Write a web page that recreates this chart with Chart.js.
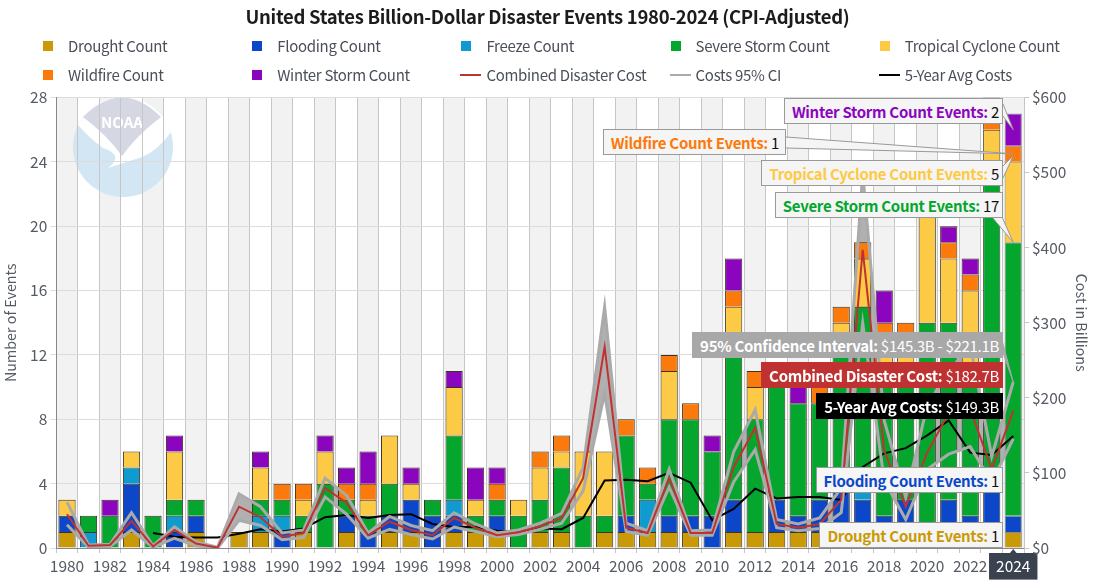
<!DOCTYPE html>
<html>
<head>
<meta charset="utf-8">
<script src="https://cdn.jsdelivr.net/npm/chart.js@4"></script>
<style>
  body { margin: 0; background: #fff; font-family: "Noto Sans CJK SC", "Noto Sans", sans-serif; }
  #wrap { position: relative; width: 1095px; height: 580px; overflow: hidden; }
  #title { position: absolute; left: 0; width: 1095px; top: 3px; text-align: center; font-size: 18.5px; letter-spacing: -0.3px; font-weight: 700; color: #1c1c1c; }
  .legend-item { position: absolute; font-size: 15px; letter-spacing: -0.3px; color: #4a4f58; line-height: 20px; white-space: nowrap; }
  .legend-mark { position: absolute; }
  .tip { position: absolute; box-sizing: border-box; height: 26px; line-height: 25px; padding: 0 3px 0 7px; font-size: 15px; letter-spacing: -0.3px; white-space: nowrap; background: #f5f5f5; border: 1px solid #999; color: #111; }
  .tip b { font-weight: 700; }
  .tip.dark { color: #fff; }
</style>
</head>
<body>
<div id="wrap">
  <canvas id="chart" width="1095" height="580"></canvas>
  <div id="title">United States Billion-Dollar Disaster Events 1980-2024 (CPI-Adjusted)</div>
</div>
<script>
// Năm
const years = [];
for (let y = 1980; y <= 2024; y++) years.push(String(y));

// Số sự kiện theo loại
const droughtCount = [1,0,0,1,0,0,1,0,1,1,0,1,0,1,0,1,1,0,1,1,1,0,1,1,0,1,1,1,1,1,0,1,1,1,1,1,1,1,1,1,1,1,1,1,1];
const floodingCount = [1,0,0,3,0,1,1,0,0,0,1,0,0,1,1,1,2,2,1,0,1,0,0,0,0,0,1,0,1,1,2,2,0,2,1,2,4,2,1,2,0,2,1,3,1];
const freezeCount = [0,1,0,1,0,1,0,0,0,1,1,0,0,0,0,0,0,0,1,0,0,0,0,0,0,0,0,2,0,0,0,0,0,0,0,0,0,1,0,0,0,0,0,0,0];
const severeStormCount = [0,1,2,0,2,1,1,0,0,1,1,1,4,1,1,2,0,1,4,1,1,2,2,4,2,1,5,1,6,6,4,10,7,8,7,6,8,11,9,8,13,11,9,20,17];
const tropicalCycloneCount = [1,0,0,1,0,3,0,0,0,2,0,1,2,0,1,3,1,0,3,1,0,1,2,1,4,4,0,0,3,0,0,2,2,0,0,0,1,3,2,2,7,4,5,2,5];
const wildfireCount = [0,0,0,0,0,0,0,0,0,0,1,1,0,1,1,0,0,0,0,0,1,0,1,1,0,0,1,1,1,1,0,1,1,0,0,1,1,1,1,1,1,1,1,1,1];
const winterStormCount = [0,0,1,0,0,1,0,0,0,1,0,0,1,1,2,0,1,0,1,2,1,0,0,0,0,0,0,0,0,0,1,2,0,0,1,0,0,0,2,0,0,1,1,1,2];

// Chi phí (tỷ USD)
const combinedCost = [45,3,4,36,2,24,6,0.5,55,41,15,20,80,60,17,35,24,17,40,27,17,21,29,40,93,268,27,20,93,20,20,108,160,32,27,32,64,397,130,55,127,180,185,105,182.7];
const costUpper = [61,4,5,47,3,28,8,1,72,55,20,24,93,70,20,42,30,23,47,32,20,24,33,46,107,321,33,23,105,23,24,128,184,38,32,40,80,500,170,68,190,235,270,122,221.1];
const costLower = [31,1,2,24,1,13,3,0,37,30,11,14,68,45,13,25,18,12,28,22,15,18,25,33,76,206,22,17,81,17,17,88,131,27,23,26,47,300,90,38,105,125,135,88,145.3];
const avgCost = [null,null,null,null,20,15,14,14,19,25,22,26,41,44,40,44,45,32,28,28,23,22,26,25,40,90,91,89,100,87,37,52,79,66,68,68,64,108,126,133,150,170,127,124,149.3];

const barNames = ["Drought Count","Flooding Count","Freeze Count","Severe Storm Count","Tropical Cyclone Count","Wildfire Count","Winter Storm Count"];
const barValues = [droughtCount,floodingCount,freezeCount,severeStormCount,tropicalCycloneCount,wildfireCount,winterStormCount];
const barColors = ["#c99a06","#0b47c8","#0f9bcf","#04a62e","#fdca45","#fb7a0b","#8b05be"];
const lineNames = ["Combined Disaster Cost","Costs 95% CI","5-Year Avg Costs"];
const lineColors = ["#c03232","#aaaaaa","#000000"];

const LAST = years.length - 1;
const FONT = '"Noto Sans CJK SC", "Noto Sans", sans-serif';
const TICK_COLOR = "#555a63";

// Bảng chú giải
const wrap = document.getElementById("wrap");
function addLegend(col, row, name, color, isLine) {
  const left = 43 + col * 209.2;
  const top = 46 + row * 29;
  const mark = document.createElement("div");
  mark.className = "legend-mark";
  if (isLine) {
    mark.style.cssText = `left:${left - 1}px;top:${top - 1}px;width:21px;height:2px;background:${color}`;
  } else {
    mark.style.cssText = `left:${left}px;top:${top - 5}px;width:10px;height:10px;background:${color}`;
  }
  wrap.appendChild(mark);
  const text = document.createElement("div");
  text.className = "legend-item";
  text.textContent = name;
  text.style.left = left + 25 + "px";
  text.style.top = top - 10 + "px";
  wrap.appendChild(text);
}
barNames.forEach((n, i) => addLegend(i % 5, i < 5 ? 0 : 1, n, barColors[i], false));
lineNames.forEach((n, i) => addLegend(i + 2, 1, n, lineColors[i], true));

// Hộp nhãn đang hover tại năm 2024
const fmt = (v) => "$" + v.toFixed(1) + "B";
const tips = [
  { seriesIndex: 6, top: 98, right: 1003 },
  { seriesIndex: 5, top: 129, right: 786, padRight: 6 },
  { seriesIndex: 4, top: 160, right: 1003 },
  { seriesIndex: 3, top: 192, right: 1003 },
  { label: "95% Confidence Interval", value: fmt(costLower[LAST]) + " - " + fmt(costUpper[LAST]), bg: "#a8a8a8", top: 332, right: 1003 },
  { label: lineNames[0], value: fmt(combinedCost[LAST]), bg: lineColors[0], top: 362, right: 1003 },
  { label: lineNames[2], value: fmt(avgCost[LAST]), bg: "#000", top: 393, right: 1003 },
  { seriesIndex: 1, top: 467, right: 1003 },
  { seriesIndex: 0, top: 522, right: 1003 },
];
tips.forEach((t) => {
  const el = document.createElement("div");
  el.className = "tip";
  el.style.top = t.top + "px";
  el.style.right = 1095 - t.right + "px";
  if (t.padRight) el.style.paddingRight = t.padRight + "px";
  if (t.bg) {
    el.className += " dark";
    el.style.background = t.bg;
    el.style.borderColor = t.bg;
    el.innerHTML = `<b>${t.label}:</b> ${t.value}`;
  } else {
    const v = barValues[t.seriesIndex][LAST];
    el.innerHTML = `<b style="color:${barColors[t.seriesIndex]}">${barNames[t.seriesIndex]} Events:</b> ${v}`;
  }
  wrap.appendChild(el);
});

// Nền sọc và logo NOAA phía sau lưới
const backgroundPlugin = {
  id: "background",
  beforeDraw(chart) {
    const { ctx, chartArea, scales } = chart;
    const band = chartArea.width / years.length;
    ctx.save();
    ctx.fillStyle = "#f2f2f2";
    years.forEach((y, i) => {
      if (i % 2 === 0) {
        ctx.fillRect(scales.x.getPixelForValue(i) - band / 2, chartArea.top, band, chartArea.height);
      }
    });
    // logo
    ctx.beginPath();
    ctx.arc(123, 147, 50, 0, Math.PI * 2);
    ctx.fillStyle = "#d3e6f3";
    ctx.fill();
    ctx.clip();
    ctx.fillStyle = "#ffffff";
    ctx.beginPath();
    ctx.moveTo(70, 97);
    ctx.lineTo(176, 97);
    ctx.lineTo(176, 125);
    ctx.quadraticCurveTo(160, 150, 142, 157);
    ctx.lineTo(108, 168);
    ctx.quadraticCurveTo(125, 155, 103, 148);
    ctx.quadraticCurveTo(85, 135, 70, 115);
    ctx.closePath();
    ctx.fill();
    ctx.restore();
    ctx.save();
    ctx.beginPath();
    ctx.moveTo(83, 117);
    ctx.quadraticCurveTo(122, 78, 161, 117);
    ctx.quadraticCurveTo(137, 135, 122, 156);
    ctx.quadraticCurveTo(107, 135, 83, 117);
    ctx.closePath();
    ctx.fillStyle = "#d5d8e3";
    ctx.fill();
    ctx.fillStyle = "#ffffff";
    ctx.font = "bold 15px " + FONT;
    ctx.textAlign = "center";
    ctx.textBaseline = "middle";
    ctx.fillText("NOAA", 122, 122);
    ctx.restore();
  },
  afterDraw(chart) {
    const { ctx, scales } = chart;
    const px = scales.x.getPixelForValue(LAST);
    // mũi nhọn của các hộp nhãn
    const count = scales.y;
    const cost = scales.yCost;
    const wedges = [
      [1003, 104, 1003, 116, px, count.getPixelForValue(26), "#f5f5f5", "#999"],
      [786, 137, 786, 148, px, count.getPixelForValue(24.5), "#f5f5f5", "#999"],
      [1003, 166, 1003, 178, px, count.getPixelForValue(24) - 6, "#f5f5f5", "#999"],
      [992, 217, 1002, 217, px, count.getPixelForValue(19), "#f5f5f5", "#999"],
      [1002, 350, 1002, 340, px, cost.getPixelForValue(costUpper[LAST]), "#a8a8a8", "#a8a8a8"],
    ];
    ctx.save();
    wedges.forEach((w) => {
      ctx.beginPath();
      ctx.moveTo(w[0], w[1]);
      ctx.lineTo(w[4], w[5]);
      ctx.lineTo(w[2], w[3]);
      ctx.fillStyle = w[6];
      ctx.strokeStyle = w[7];
      ctx.fill();
      ctx.stroke();
    });
    // tam giác của nhãn năm 2024
    ctx.fillStyle = "#3a4250";
    ctx.beginPath();
    ctx.moveTo(px - 5, 555);
    ctx.lineTo(px, 549);
    ctx.lineTo(px + 5, 555);
    ctx.fill();
    ctx.restore();
  },
};

const barDatasets = barNames.map((name, i) => ({
  type: "bar",
  label: name,
  data: barValues[i],
  backgroundColor: barColors[i],
  borderColor: (c) => (c.dataIndex === LAST ? "#8a8a8a" : "rgba(40,30,10,0.9)"),
  borderWidth: (c) => (c.raw ? 1 : 0),
  yAxisID: "y",
  stack: "events",
  categoryPercentage: 1,
  barPercentage: 0.8,
  order: 4,
}));

function lineDataset(label, data, color, width, order) {
  return {
    type: "line",
    label: label,
    data: data,
    borderColor: color,
    borderWidth: width,
    pointRadius: 0,
    tension: 0,
    fill: false,
    spanGaps: false,
    yAxisID: "yCost",
    order: order,
  };
}

new Chart(document.getElementById("chart"), {
  data: {
    labels: years,
    datasets: [
      ...barDatasets,
      // Dải CI nằm dưới các cột
      lineDataset("CI band upper", costUpper, "transparent", 0, 5),
      { ...lineDataset("CI band lower", costLower, "transparent", 0, 5), fill: "-1", backgroundColor: "#b0b0b0" },
      lineDataset(lineNames[0], combinedCost, lineColors[0], 2, 1),
      lineDataset("Costs 95% CI Upper", costUpper, lineColors[1], 3, 2),
      lineDataset("Costs 95% CI Lower", costLower, lineColors[1], 3, 2),
      lineDataset(lineNames[2], avgCost, lineColors[2], 2, 3),
    ],
  },
  options: {
    responsive: false,
    animation: false,
    devicePixelRatio: 1,
    layout: { padding: { top: 97.5, bottom: 0, left: 0, right: 0 } },
    plugins: { legend: { display: false }, title: { display: false }, tooltip: { enabled: false } },
    scales: {
      x: {
        stacked: true,
        afterFit: (s) => { s.height = 32; s.paddingLeft = 0; s.paddingRight = 0; },
        grid: { color: "#c6c6c6", tickLength: 5, offset: true },
        border: { color: "#888" },
        ticks: {
          autoSkip: false,
          maxRotation: 0,
          padding: 4,
          font: { family: FONT, size: 15.5 },
          color: (c) => (c.index === LAST ? "#ffffff" : TICK_COLOR),
          showLabelBackdrop: (c) => c.index === LAST,
          backdropColor: "#3a4250",
          backdropPadding: { x: 7, y: 4 },
          callback(value, index) {
            return index % 2 === 0 ? years[index] : "";
          },
        },
      },
      y: {
        position: "left",
        stacked: true,
        min: 0,
        max: 28,
        afterFit: (s) => { s.width = 56.25; },
        grid: { color: "#dcdcdc", tickLength: 6 },
        border: { color: "#888" },
        ticks: { stepSize: 4, padding: 3, font: { family: FONT, size: 15.5 }, color: TICK_COLOR },
        title: { display: true, text: "Number of Events", font: { family: FONT, size: 14.3 }, color: TICK_COLOR, padding: { top: 2, bottom: 0 } },
      },
      yCost: {
        position: "right",
        min: 0,
        max: 600,
        afterFit: (s) => { s.width = 71; },
        grid: { drawOnChartArea: false, color: "#c6c6c6", tickLength: 5 },
        border: { color: "#c6c6c6" },
        ticks: { stepSize: 100, padding: 3, font: { family: FONT, size: 15.5 }, color: TICK_COLOR, callback: (v) => "$" + v },
        title: { display: true, text: "Cost in Billions", font: { family: FONT, size: 14.3 }, color: TICK_COLOR, padding: { top: 5, bottom: 0 } },
      },
    },
  },
  plugins: [backgroundPlugin],
});
</script>
</body>
</html>
